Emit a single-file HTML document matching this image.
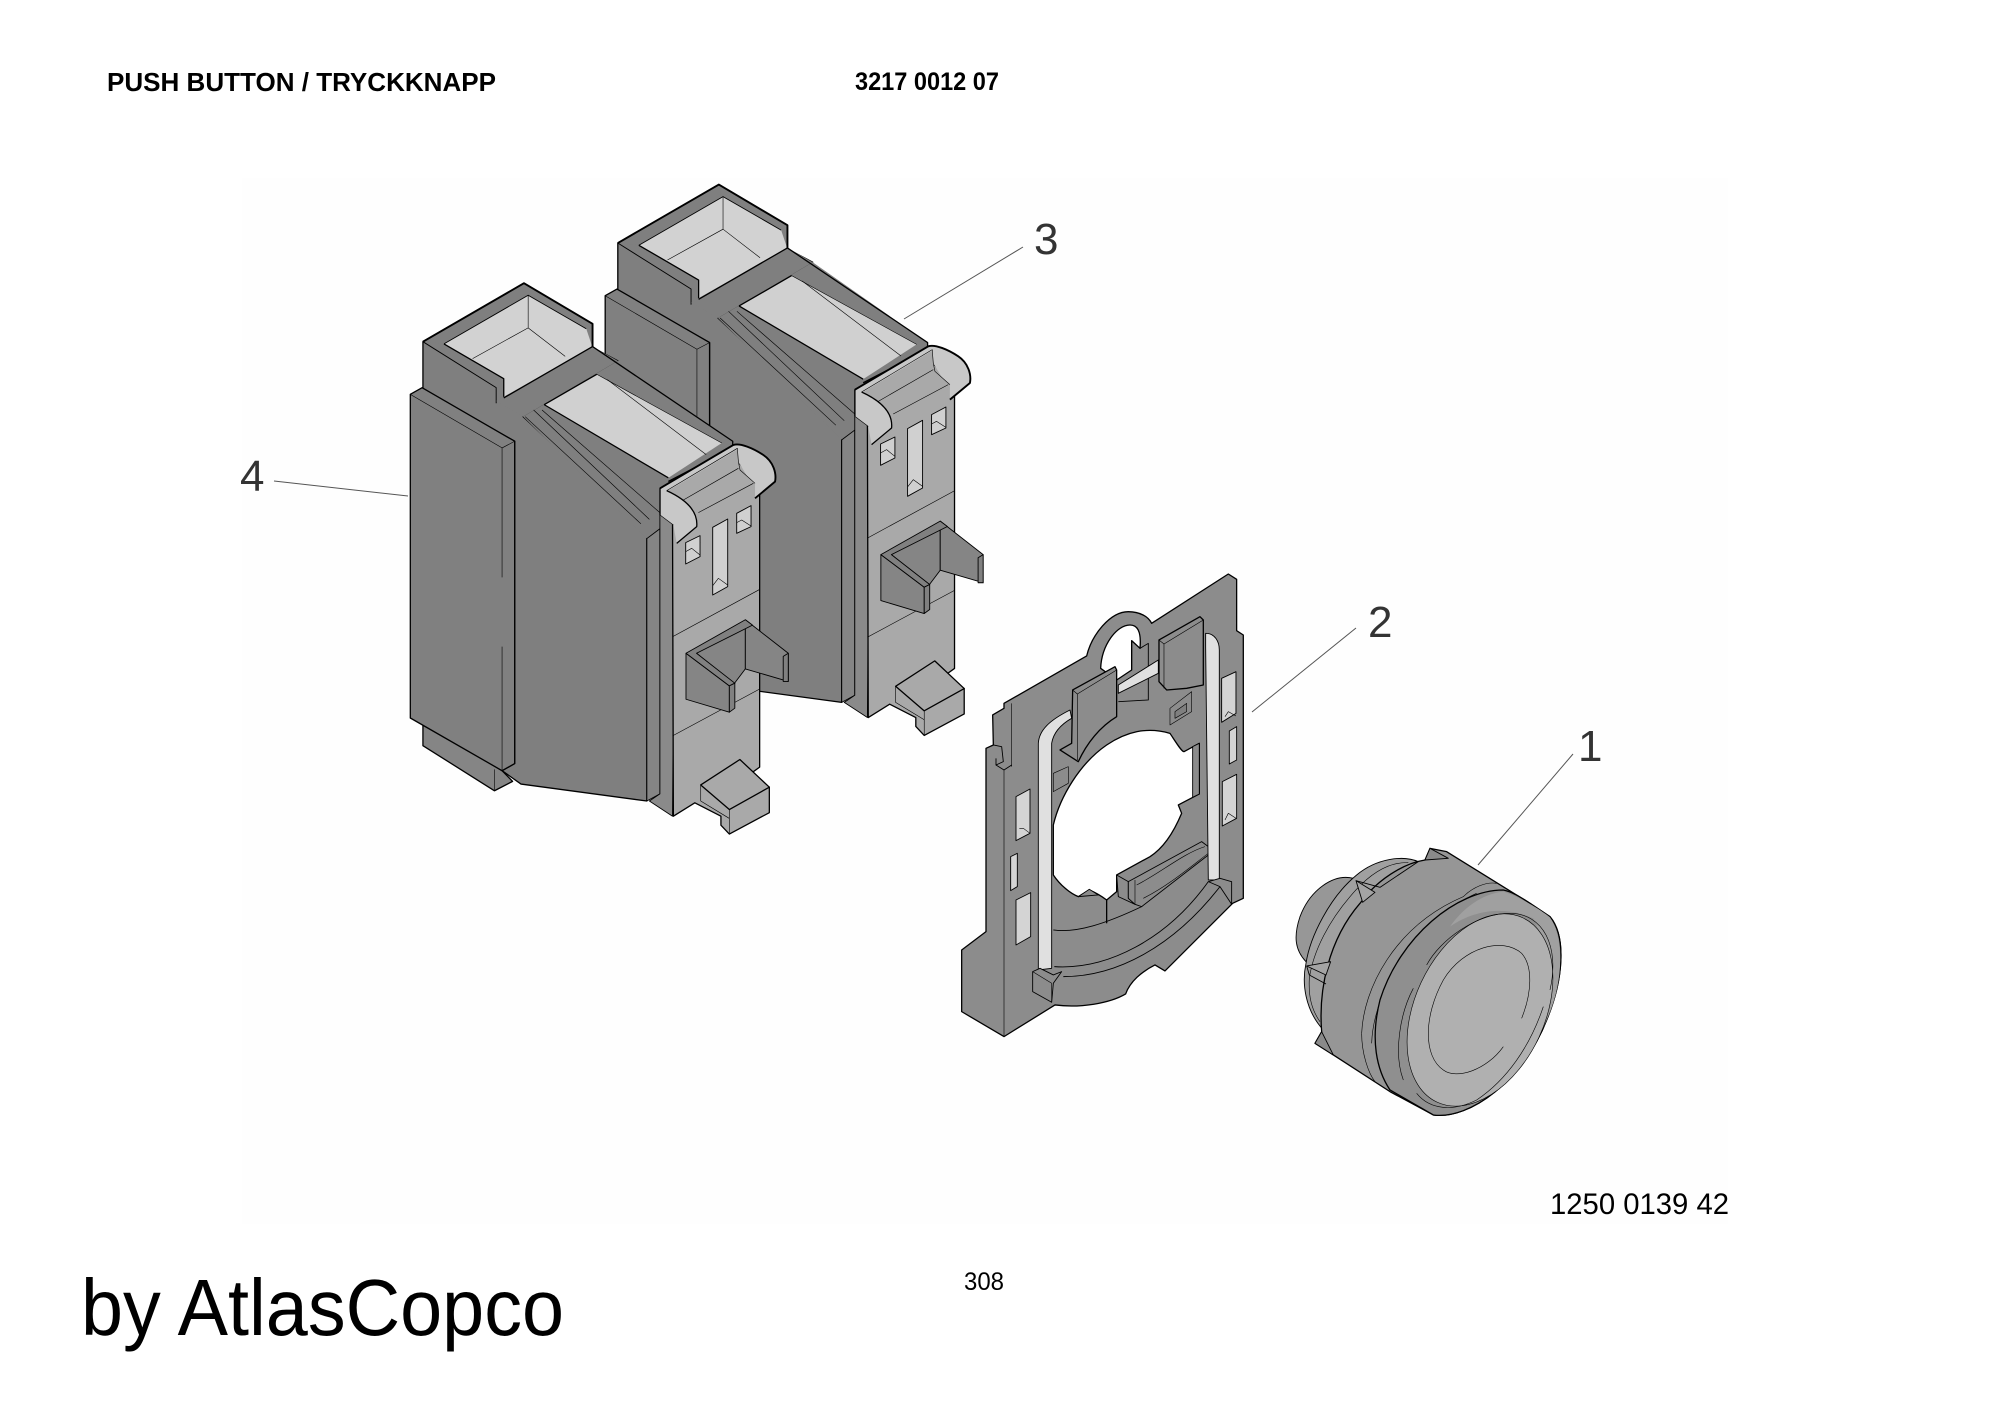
<!DOCTYPE html>
<html><head><meta charset="utf-8"><style>
html,body{margin:0;padding:0;background:#fff}svg{display:block}
text{font-family:"Liberation Sans",sans-serif;fill:#000}
.s *{vector-effect:non-scaling-stroke;stroke:#000;stroke-width:1.3;stroke-linejoin:round}
.s .t{stroke-width:.6}.s .h{stroke-width:1.9}.s .n{stroke:none}.s .f{fill:none}
.s .m{stroke-width:.9}
</style></head><body>
<svg width="2000" height="1415" viewBox="0 0 2000 1415" xmlns="http://www.w3.org/2000/svg">
<rect width="2000" height="1415" fill="#fff"/>
<rect x="242" y="178" width="1486" height="1046" fill="#fefefe"/>
<defs>
<g id="m" class="s">
<polygon fill="#858585" points="102,1260 102,1312 272,1413 315,1392 290,1368"/>
<line class="t" x1="272" y1="1365" x2="272" y2="1413"/>
<polygon fill="#7f7f7f" points="102,407 342,276 505,367 505,420 565,450 340,575 634,835 634,1436 335,1398 290,1368 320,1352 320,630 102,515"/>
<polygon fill="#808080" points="72,525 100,510 320,630 320,1352 290,1368 72,1250"/>
<line class="t" x1="72" y1="525" x2="290" y2="645"/>
<line class="t" x1="290" y1="645" x2="320" y2="630"/>
<line class="t" x1="290" y1="645" x2="290" y2="935"/>
<line class="t" x1="290" y1="1090" x2="290" y2="1368"/>
<polygon fill="#d2d2d2" class="n" points="152,412 352,303 505,385 505,420 294,533 294,490"/>
<polyline class="t f" points="352,303 352,376 220,445"/>
<line class="t" x1="352" y1="376" x2="440" y2="440"/>
<polygon fill="#7f7f7f" class="n" points="102,407 152,412 294,490 294,533 276,545 276,510"/>
<polygon fill="#808080" class="n" points="342,276 505,367 505,420 490,378 352,303"/>
<polyline class="f m" points="152,412 352,303 490,378"/>
<polyline class="f" points="152,412 294,490 294,533"/>
<polyline class="f m" points="102,407 276,510 276,545"/>
<polyline class="f h" points="102,407 342,276 505,367 505,420"/>
<polygon fill="#7f7f7f" class="n" points="340,575 565,450 838,630 838,645 700,800 665,826 634,848"/>
<polygon fill="#7f7f7f" class="n" points="276,540 505,418 565,450 340,575"/>
<polyline class="f" points="294,533 505,418 838,630 838,645 685,720"/>
<polygon fill="#d0d0d0" class="n" points="390,548 515,480 812,634 685,712"/>
<line x1="390" y1="548" x2="515" y2="480"/>
<line x1="515" y1="480" x2="812" y2="634" class="t"/>
<line x1="390" y1="548" x2="685" y2="712"/>
<line class="t" x1="540" y1="492" x2="775" y2="660"/>
<line class="t" x1="345" y1="575" x2="620" y2="815"/>
<line class="t" x1="365" y1="560" x2="640" y2="805"/>
<line class="t" x1="385" y1="560" x2="665" y2="790"/>
<polygon fill="#858585" class="m" points="634,848 665,826 665,1420 634,1436"/>
<polygon fill="#8a8a8a" class="m" points="665,735 700,800 695,1470 640,1436 665,1420"/>
<polygon fill="#a9a9a9" points="695,815 855,680 890,720 902,750 902,1360 880,1375 925,1405 925,1462 830,1510 810,1490 810,1470 748,1440 697,1470"/>
<polygon fill="#a9a9a9" points="762,1400 855,1343 925,1405 830,1455"/>
<polyline class="f t" points="762,1400 762,1436 830,1475"/>
<line x1="830" y1="1455" x2="830" y2="1510" class="t"/>
<g transform="translate(617.8,582.4) scale(.792,.7467)">
<path fill="#c8c8c8" class="n" d="M60,205 L280,75 C300,68 340,85 370,105 C400,125 410,160 405,185 L345,235 L340,200 L295,125 L90,210 C130,235 175,270 170,320 L110,370 L100,315 L60,285 Z"/>
<path fill="#a9a9a9" class="n" d="M85,212 L292,88 L300,150 L345,190 L345,240 L175,330 C175,270 130,235 85,212 Z"/>
<path class="f h" d="M60,205 L280,75 C300,68 340,85 370,105 C400,125 410,160 405,185 L345,235"/>
<path class="f" d="M80,212 C130,235 175,270 170,320 L110,370"/>
<line x1="60" y1="205" x2="60" y2="285"/>
<polyline class="f t" points="80,212 292,85 295,125 300,150 345,190"/>
<line class="t" x1="130" y1="240" x2="295" y2="145"/>
<line class="t" x1="175" y1="278" x2="340" y2="190"/>
<line class="t" x1="60" y1="285" x2="100" y2="315"/>
<polygon fill="#d0d0d0" class="m" points="137,368 180,347 180,410 137,432"/>
<polyline class="f t" points="137,395 155,385 180,405"/>
<polygon fill="#d0d0d0" class="m" points="218,322 263,297 263,500 218,525"/>
<polyline class="f t" points="218,497 235,475 263,495"/>
<polygon fill="#d0d0d0" class="m" points="290,280 333,257 333,320 290,340"/>
<polyline class="f t" points="290,308 305,300 333,318"/>
</g>
<line class="t" x1="695" y1="1068" x2="902" y2="962"/>
<line class="t" x1="695" y1="1290" x2="902" y2="1185"/>
<polygon fill="#858585" class="m" points="752,1105 868,1042 868,1140 840,1175"/>
<polygon fill="#858585" class="m" points="868,1030 970,1105 970,1168 868,1140"/>
<polygon fill="#858585" class="m" points="727,1105 830,1178 830,1237 727,1208"/>
<polygon fill="#808080" class="m" points="727,1105 868,1030 885,1042 752,1105 843,1172 830,1178"/>
<polygon fill="#808080" class="m" points="830,1178 843,1172 843,1228 830,1237"/>
<polygon fill="#808080" class="m" points="958,1112 970,1105 970,1168 958,1168"/>
</g>
</defs>
<use href="#m" transform="translate(380,160) scale(.4209,.4464) translate(463,-221)"/>
<use href="#m" transform="translate(380,160) scale(.4209,.4464)"/>

<g class="s" transform="translate(960,570) scale(.3333)">
<path fill="#8c8c8c" d="M132,400 L380,258 C395,195 450,125 505,125 C540,125 565,140 575,160 L805,12 L830,28 L830,182 L850,195 L850,985 L818,1000 L615,1203 L585,1185 C545,1205 510,1235 497,1272 C450,1300 360,1315 285,1305 L132,1400 L5,1325 L5,1140 L78,1085 L78,535 L100,525 L98,435 L132,415 Z"/>
<path fill="#fff" d="M422,295 C425,225 470,165 510,165 C530,165 545,180 540,235 L515,212 L515,300 L470,330 Z"/>
<path fill="none" class="m" d="M515,300 L515,212 L540,235 L565,220 L565,390 L475,395"/>
<path fill="#fff" d="M280,765 C300,680 360,580 440,525 C500,485 560,470 630,490 C650,520 665,545 672,545 L718,520 L718,672 L655,705 L665,730 C640,790 610,835 570,860 L470,915 L470,965 L440,990 C420,975 400,965 388,960 L355,980 C330,970 300,945 280,915 Z"/>
<polygon fill="#8c8c8c" class="m" points="698,530 718,520 718,672 698,682"/>
<polygon fill="#8c8c8c" class="m" points="355,980 388,958 415,975"/>
<line class="t" x1="132" y1="600" x2="132" y2="1400"/>
<line class="t" x1="155" y1="400" x2="155" y2="590"/>
<polyline class="f m" points="100,525 125,530 130,575 108,585 108,565"/>
<polyline class="f m" points="108,585 132,600 155,585"/>
<line x1="440" y1="990" x2="440" y2="1060"/>
<path class="f m" d="M280,1080 C350,1090 440,1060 545,1010"/>
<path class="f m" d="M283,1190 C440,1200 620,1110 745,935"/>
<path class="f m" d="M310,1220 C470,1220 640,1130 780,950"/>
<polygon fill="#8c8c8c" class="m" points="470,915 505,935 505,985 525,1003 475,980"/>
<polygon fill="#8c8c8c" class="m" points="505,935 725,815 745,830 745,855 545,1010 525,1003 505,985"/>
<line class="t" x1="525" y1="930" x2="525" y2="1003"/>
<path class="f t" d="M530,945 C600,910 670,850 735,830"/>
<path class="f t" d="M550,985 C620,950 680,900 745,850"/>
<path fill="#e0e0e0" class="m" d="M235,1200 L235,520 C237,480 270,450 330,420 L335,445 C300,465 280,490 275,520 L275,1195 Z"/>
<path fill="#e0e0e0" class="m" d="M737,190 C765,190 778,215 778,240 L778,930 L745,930 L737,230 Z"/>
<polygon fill="#e0e0e0" class="m" points="475,345 595,270 595,310 475,370"/>
<polygon fill="#8c8c8c" points="597,210 720,140 730,150 730,345 680,355 620,360 597,335"/>
<polyline class="f t" points="597,210 612,222 730,150"/>
<line class="t" x1="612" y1="222" x2="612" y2="355"/>
<path fill="#8c8c8c" d="M338,360 L465,290 L470,300 L470,440 C420,470 380,520 355,575 L300,540 L335,520 Z"/>
<polyline class="f t" points="338,360 352,372 470,300"/>
<line class="t" x1="352" y1="372" x2="352" y2="570"/>
<polygon fill="#8c8c8c" class="t" points="630,415 695,365 695,425 630,465"/>
<polygon fill="#7f7f7f" class="t" points="645,425 680,400 680,425 645,445"/>
<polygon fill="#8c8c8c" class="t" points="280,610 325,590 325,640 280,665"/>
<polygon fill="#d4d4d4" class="m" points="168,680 210,657 210,790 168,812"/>
<polyline class="f t" points="178,775 190,775 210,790"/>
<polygon fill="#d4d4d4" class="m" points="152,860 172,850 172,950 152,962"/>
<polygon fill="#d4d4d4" class="m" points="168,990 212,968 212,1100 168,1125"/>
<polygon fill="#d4d4d4" class="m" points="785,325 828,305 828,430 785,457"/>
<polyline class="f t" points="795,440 805,425 828,438"/>
<polygon fill="#d4d4d4" class="m" points="808,483 830,470 830,570 808,582"/>
<polygon fill="#d4d4d4" class="m" points="787,635 830,613 830,745 787,768"/>
<polyline class="f t" points="795,750 805,730 828,745"/>
<polygon fill="#8c8c8c" class="m" points="218,1205 240,1195 280,1215 305,1205 280,1240 275,1297 218,1265"/>
<line class="t" x1="218" y1="1205" x2="275" y2="1240"/>
<line class="t" x1="275" y1="1240" x2="275" y2="1297"/>
<polygon fill="#8c8c8c" class="m" points="745,935 780,925 815,935 815,1003 780,950"/>
</g>

<g class="s" transform="translate(1290,840) scale(.3333)">
<path fill="#979797" class="m" d="M190,115 C130,100 60,150 30,230 C10,290 15,330 48,365 L150,200 Z"/>
<path fill="#a0a0a0" class="m" d="M385,65 C340,45 260,55 200,105 C120,170 60,290 48,370 C35,430 45,510 100,570 L200,400 Z"/>
<path class="f t" d="M355,68 C290,65 230,110 180,170 C120,240 70,330 58,415 C55,470 65,510 90,545"/>
<path fill="#969696" d="M420,25 L470,35 L720,190 L780,230 C830,290 820,420 770,540 C700,720 540,840 430,825 L300,755 L130,645 L75,610 L95,575 C85,450 115,300 210,190 C260,120 340,70 405,60 Z"/>
<polygon fill="#8a8a8a" class="m" points="405,60 420,25 475,55"/>
<polygon fill="#a4a4a4" class="m" points="198,122 255,157 218,187"/>
<polyline class="f m" points="198,122 270,142 385,65"/>
<polygon fill="#a4a4a4" class="m" points="50,378 122,365 108,405"/>
<polyline class="f m" points="50,378 58,405 108,432"/>
<polygon fill="#8a8a8a" class="m" points="75,610 95,575 130,645"/>
<path class="f t" d="M215,580 C220,450 310,260 520,170 C550,140 590,125 620,130"/>
<path class="f t" d="M245,610 C250,450 380,240 560,160"/>
<path class="f t" d="M215,580 C215,640 235,700 255,725"/>
<path fill="#8f8f8f" d="M640,150 C500,150 330,290 270,480 C240,600 260,690 300,750 L430,825 C540,840 700,720 770,540 C820,420 830,290 780,230 L720,190 C690,170 665,155 640,150 Z"/>
<path fill="#a0a0a0" class="n" d="M640,155 C690,170 760,215 780,232 C820,290 825,420 770,540 C745,600 710,650 670,700 C770,500 790,350 730,235 C650,200 560,205 480,260 C530,190 590,160 640,155 Z"/>
<ellipse cx="570" cy="510" rx="195" ry="305" transform="rotate(25 570 510)" fill="#b0b0b0" class="t"/>
<path class="f t" d="M410,375 C450,300 560,220 660,220 C760,220 810,320 780,450"/>
<path class="f t" d="M370,445 C330,520 310,640 340,720"/>
<path class="f t" d="M760,500 C720,620 650,720 560,780 C490,815 420,810 380,760"/>
<path class="f t" d="M640,620 C590,690 500,720 460,690 C400,650 400,530 460,420 C520,320 640,290 695,340 C730,380 725,460 695,535"/>
</g>

<g stroke="#555" stroke-width="1" fill="none">
<line x1="904" y1="319" x2="1023" y2="247"/>
<line x1="274" y1="481" x2="408" y2="496"/>
<line x1="1252" y1="712" x2="1356" y2="628"/>
<line x1="1478" y1="865" x2="1573" y2="754"/>
</g>
<text x="107" y="91" font-size="26" font-weight="bold" textLength="389" lengthAdjust="spacingAndGlyphs">PUSH BUTTON / TRYCKKNAPP</text>
<text x="855" y="90" font-size="25" font-weight="bold" textLength="144" lengthAdjust="spacingAndGlyphs">3217 0012 07</text>
<text x="1034" y="254" font-size="44" fill-opacity=".8">3</text>
<text x="240" y="491" font-size="44" fill-opacity=".8">4</text>
<text x="1368" y="637" font-size="44" fill-opacity=".8">2</text>
<text x="1578" y="761" font-size="44" fill-opacity=".8">1</text>
<text x="1550" y="1214" font-size="30" textLength="179" lengthAdjust="spacingAndGlyphs">1250 0139 42</text>
<text x="964" y="1290" font-size="25" textLength="40" lengthAdjust="spacingAndGlyphs">308</text>
<text x="81" y="1335" font-size="80" textLength="483" lengthAdjust="spacingAndGlyphs">by AtlasCopco</text>
</svg>
</body></html>
